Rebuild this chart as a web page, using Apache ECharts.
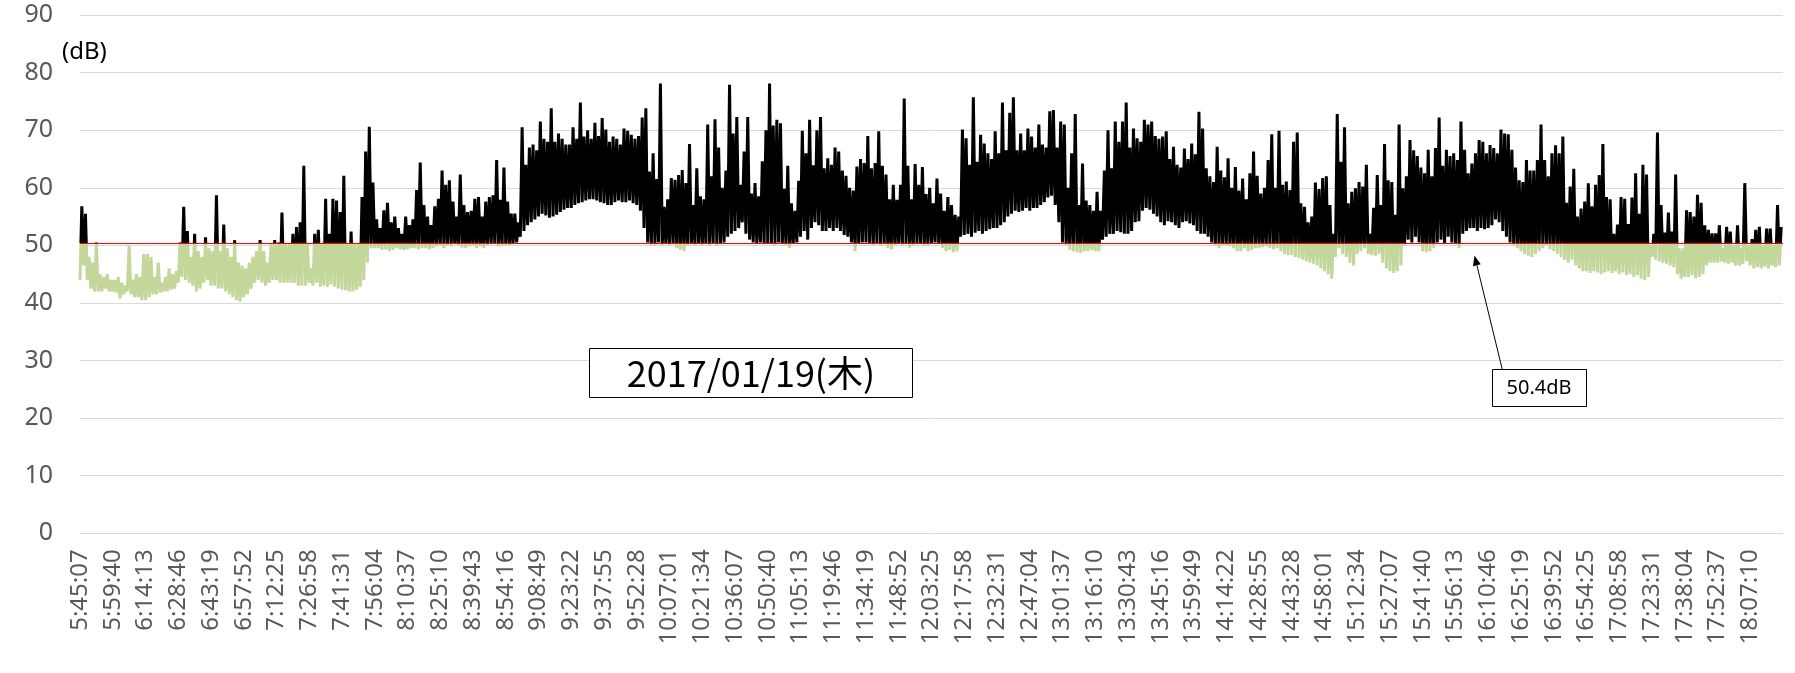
<!DOCTYPE html>
<html><head><meta charset="utf-8">
<script src="https://cdn.jsdelivr.net/npm/echarts@6/dist/echarts.min.js"></script>
<style>html,body{margin:0;padding:0;background:#fff}#chart{width:1795px;height:673px}</style>
</head><body><div id="chart"></div>
<script>
// x tick labels (one every 873 s)
const timeLabels = ['5:45:07','5:59:40','6:14:13','6:28:46','6:43:19','6:57:52','7:12:25','7:26:58','7:41:31','7:56:04',
 '8:10:37','8:25:10','8:39:43','8:54:16','9:08:49','9:23:22','9:37:55','9:52:28','10:07:01','10:21:34',
 '10:36:07','10:50:40','11:05:13','11:19:46','11:34:19','11:48:52','12:03:25','12:17:58','12:32:31','12:47:04',
 '13:01:37','13:16:10','13:30:43','13:45:16','13:59:49','14:14:22','14:28:55','14:43:28','14:58:01','15:12:34',
 '15:27:07','15:41:40','15:56:13','16:10:46','16:25:19','16:39:52','16:54:25','17:08:58','17:23:31','17:38:04',
 '17:52:37','18:07:10'];
const LABEL_STEP = 873;   // seconds between tick labels
const BIN = 97;           // seconds per bin (9 bins per label step)
const threshold = 50.4;   // dB
const Y_MIN = 0, Y_MAX = 90, Y_STEP = 10;

// per-bin minimum level (dB), one row per label step
const binLow = [
 44,46.5,44,42.5,42,42,42,42.5,42,
 42,41.8,40.8,41.5,42,41.5,41,41,40.5,
 40.5,41,41.5,41.5,41.8,42,42,42.3,42.5,
 43.5,44.5,44,43.5,43,42,42.5,43.5,44,
 43,43,42.5,42.5,42,41.5,41,40.5,40.2,
 41,41.5,42.5,43.5,44,43.5,43,43.5,44,
 44,43.5,43.5,43.5,43.5,43.5,43,43,43,
 43.5,43,43.5,42.8,43,42.8,43.2,42.8,42.5,
 42.3,42.2,42,42,42.3,42.8,44,47,49.5,
 49.5,49.5,49.2,49.3,49,49.2,49.5,49.3,49.2,
 49.3,49.5,49.5,49.3,49.5,49.5,49.3,49.5,49.8,
 50,49.5,50,49.8,50.2,50,49.6,49.5,49.8,
 50,49.5,49.8,49.5,50,50.2,50.3,49.8,50,
 50,50,50.2,50.5,51.5,52.5,53.5,54,54.5,
 55,55.5,55.2,54.8,55,55.3,55.8,56.2,56.5,
 56.5,57,57.3,57.5,57.8,58,58,57.8,57.5,
 57.3,57,57,57.5,57.8,57.5,57.5,57.8,57.3,
 57,56,53,50.5,50,50,50.5,50,50.2,
 50,50.2,49.5,49.2,49,50,50.2,50,50.3,
 50,50.2,50,50.3,50,50.2,50.5,51.5,52,
 52.5,53,54,52,51,50.5,50.3,50.5,50.2,
 50.3,50.2,50,50.5,50.2,50,49.5,50.3,50.5,
 51.5,52.5,51,53,54,53.5,52.5,52.5,53,
 52.5,53,52.5,51.8,51.5,50.5,49,50.2,50.5,
 50.5,50.2,50,50.3,50,50.2,49.5,49.3,50,
 50.3,50,50.2,49.5,50,50.2,50.3,50,50,
 50.3,50.5,50.2,49.5,49,49.2,48.8,49,51.5,
 51.8,52,51.5,52.2,52.5,52,52.5,52.8,53,
 53,53.5,54,55,55.5,56,55.8,56,56.5,
 56,56.5,56.5,57,57.5,58.3,58.6,57,54,
 50.5,50,49.2,49,48.8,48.7,49,49,49.2,
 49,49,51,51.5,52,52,52.5,52.3,52,
 52,52.5,54,54.2,56,56.5,56.2,55.5,55,
 54,53.5,54.2,54,53.5,53,54,54.2,53.8,
 53.5,52.5,52,52,51.5,50.5,50,49.5,50,
 50,49.8,49.5,49,49,49.5,49,49.2,49.5,
 49.5,49.7,49.8,49.5,49.3,49.5,49,48.5,48.3,
 48.3,48,47.8,47.5,47.2,47,46.8,46.5,46,
 45.5,45,44.2,48,49.5,48.5,48,47,46.5,
 48.5,49,49.5,48.5,48.3,48.2,48.5,47,46,
 45.5,45.2,45.5,46.5,50,51,50.5,51.5,50.5,
 49,48.8,49,49.5,50.5,51,50.2,51.5,50.5,
 50.3,49.5,52,52.5,53,53,52.5,53,52.8,
 53,53.5,54.5,54,52.5,51.5,50.5,50,49.5,
 49,48.5,48.2,48,48.5,49,49.5,50,49.3,
 49,48.5,48,47.5,47,47.5,46.5,46,45.5,
 45.5,45.2,45.5,45.3,45,45.3,45.5,45.2,45.5,
 45,45.3,44.8,45,44.5,44.8,44.2,44,44.5,
 48,47.5,47.2,47,46.8,46.5,46.2,45,44.2,
 44.5,44.5,44.8,44.3,44.5,45,46.5,47,47,
 47,47.2,47,46.8,47,46.5,46.5,46.8,47.3,
 46.5,46,46.2,46,46.3,46,46.5,46.2,46.5
];
// per-bin maximum level (dB)
const binHigh = [
 56.8,55.5,48,47,50.5,45,44.5,45,44,
 44,44.5,43.5,43,50,44,45,44.5,48.5,
 48.5,48,44.5,47,43.5,44.5,46,45,45.5,
 50.5,56.7,52.5,48,52,49,48,51.4,49.5,
 49,58.7,49,53.6,49.5,48,50.9,47,46.5,
 46,47,48,49,50.9,49,47,50.3,50.9,
 50.5,55.7,50.3,50.3,52,53.2,54,63.8,50.3,
 46,52,52.7,50.3,58.1,52,58.1,57.8,55.8,
 62.1,50.3,52.4,50.3,50.3,58.4,66.3,70.6,60.9,
 54.5,53,56.1,57.4,54,55,53,52,55,
 53.5,54.5,59.6,64.4,57,55,53.5,56.8,58.1,
 63,60.5,61.3,57.6,55,62.3,57,55.8,56,
 58.1,58.4,55,57.6,58.4,58.7,64.8,57.9,63.5,
 57.6,55.5,55.5,54,70.5,64,67,67.5,66.5,
 71.5,68.5,68,73.8,68,69.4,68.5,67.5,67.5,
 70.5,68.5,74.8,68.9,70,68.5,71.3,69,72.1,
 70.1,68,68.9,68.5,67.5,70.3,69.9,69.2,68.5,
 69,72.2,73.8,62.8,66,61.5,78.1,56.7,58,
 61.7,61.4,62.2,63.1,60.8,67.6,57,63.4,58.5,
 58,71,62,71.9,67,60,63,77.9,69.4,
 72.3,60.5,66.3,72.3,59,60.8,58.5,64.6,70,
 78.1,70.8,71.8,71.2,59.8,63.8,57.3,56,61.2,
 69.9,66,71.8,63.9,70,72.3,63.4,65.1,64,
 67,66.3,63,62.1,60,59.5,63.7,65,64.3,
 69,63.4,64.3,69.8,63.8,62.3,58,60.5,57.9,
 60.5,75.5,63.8,58,64.1,60.5,63.6,58.9,60,
 57.3,61.6,59,56,58.4,57,55.3,55,70.1,
 68.6,64,75.7,64.5,69.2,67.7,66,65,69.8,
 66,74.8,66.5,73,75.7,66.5,69.4,66.5,70.3,
 68.9,67,71,67.5,67,73.3,73.5,67,71.5,
 71,60,66,72.8,57,64.2,57.8,57,56,
 59.3,56,63,70,63.4,71.5,68,71.5,74.8,
 67,70.3,68.6,68,71.8,71,71.5,69,68.5,
 68.9,69.8,65,67.1,64,63.5,66.8,65,67.7,
 65.8,73.2,70.3,63.4,62,61,67.1,63,61.8,
 65.1,60,63.6,59.5,61.6,58,62.5,66.3,62.1,
 59,60,64.8,69.3,60,69.9,60.5,61.1,59.6,
 68,69.6,57.3,56.7,54,55,60.9,59.8,61.7,
 62,57,52,72.8,64.5,70.5,57.3,59.3,59.9,
 61,60.2,64,52,56.5,62.2,57,67.6,61.3,
 61,55.3,71,59.9,62,68.3,66.5,65.5,63.5,
 62.5,66.6,62,66.9,72.2,63.8,66.6,65.5,66,
 64.8,71.5,66.6,62.5,64.2,66,68.3,68,66,
 67.4,66.9,66,70.1,69.4,69.3,66.6,63.5,61.3,
 61,64.8,63,63,64.8,71,64.8,62,66,
 67.4,66,68.9,57.4,60.2,63.3,55,56.4,57.6,
 60.8,56.8,60.5,62.2,67.6,58.4,58,52,53.6,
 58.4,58.1,53.7,58.3,62.5,55.5,64,62.3,50,
 52,69.6,57,52.2,55.7,52.4,62.3,49.5,49.5,
 56.1,55.8,55,58.8,57.4,53.5,52.7,52.1,52.1,
 53.5,49.5,53.2,52.4,50,53.5,49.5,60.8,50,
 51.1,52.7,53.2,50,52.9,52.9,50,57,53.2
];

// each bin: its low at the bin start, its high half a bin later
const points = [];
for (let j = 0; j < binLow.length; j++) {
  points.push([j * BIN, binLow[j]]);
  points.push([j * BIN + BIN / 2, binHigh[j]]);
}

const BLACK = '#000000', GREEN = '#C4D79B';
const chart = echarts.init(document.getElementById('chart'), null, {renderer: 'canvas'});

// arrow geometry for the annotation
const arrowStart = [1502.3, 369.5], arrowTip = [1474.5, 255.5];
const dx = arrowTip[0] - arrowStart[0], dy = arrowTip[1] - arrowStart[1];
const len = Math.hypot(dx, dy), ux = dx / len, uy = dy / len;
const hl = 10, hw = 4;
const bx = arrowTip[0] - ux * hl, by = arrowTip[1] - uy * hl;

chart.setOption({
  animation: false,
  backgroundColor: '#ffffff',
  grid: {left: 80, right: 12, top: 15, bottom: 139.7},
  xAxis: {
    type: 'value', min: 0, max: LABEL_STEP * timeLabels.length, interval: LABEL_STEP,
    axisLine: {show: false}, axisTick: {show: false}, splitLine: {show: false},
    axisLabel: {
      rotate: 90, showMaxLabel: false, showMinLabel: true,
      formatter: v => timeLabels[Math.round(v / LABEL_STEP)] || '',
      color: '#595959', fontSize: 24, fontFamily: 'Noto Sans', margin: 16
    }
  },
  yAxis: {
    type: 'value', min: Y_MIN, max: Y_MAX, interval: Y_STEP,
    axisLine: {show: false}, axisTick: {show: false},
    splitLine: {lineStyle: {color: '#D9D9D9', width: 1}},
    axisLabel: {color: '#595959', fontSize: 25, fontFamily: 'Noto Sans', margin: 27}
  },
  series: [{
    type: 'line', data: points, symbol: 'none', lineStyle: {width: 3, color: BLACK, join: 'miter', miterLimit: 2}, z: 2,
    markLine: {
      silent: true, symbol: ['none', 'none'], label: {show: false},
      lineStyle: {color: '#FF0000', width: 1, type: 'solid'},
      emphasis: {disabled: true},
      data: [{yAxis: threshold}]
    }
  }],
  graphic: [
    {type: 'text', x: 62, y: 52.5, z: 100,
     style: {text: '(dB)', font: '24px "Noto Sans"', fill: '#000', align: 'left', verticalAlign: 'middle'}},
    {type: 'rect', z: 100, shape: {x: 589.5, y: 348.5, width: 323, height: 49},
     style: {fill: '#fff', stroke: '#000', lineWidth: 1}},
    {type: 'text', x: 751, y: 373, z: 101,
     style: {text: '2017/01/19(木)', font: '36px "Noto Sans CJK JP"', fill: '#000', align: 'center', verticalAlign: 'middle'}},
    {type: 'rect', z: 100, shape: {x: 1492.5, y: 369.5, width: 94, height: 37},
     style: {fill: '#fff', stroke: '#000', lineWidth: 1}},
    {type: 'text', x: 1539, y: 388.5, z: 101,
     style: {text: '50.4dB', font: '20px "Noto Sans"', fill: '#000', align: 'center', verticalAlign: 'middle'}},
    {type: 'line', z: 100, shape: {x1: arrowStart[0], y1: arrowStart[1], x2: bx, y2: by},
     style: {stroke: '#000', lineWidth: 1}},
    {type: 'polygon', z: 100,
     shape: {points: [[arrowTip[0], arrowTip[1]], [bx + uy * hw, by - ux * hw], [bx - uy * hw, by + ux * hw]]},
     style: {fill: '#000'}}
  ]
});

// colour the line black above the threshold and green below, using the y axis scale
const yTop = chart.convertToPixel({yAxisIndex: 0}, Y_MAX);
const yBot = chart.convertToPixel({yAxisIndex: 0}, Y_MIN);
const yThr = chart.convertToPixel({yAxisIndex: 0}, threshold);
const t = (yThr - yTop) / (yBot - yTop);
chart.setOption({
  series: [{
    lineStyle: {
      color: new echarts.graphic.LinearGradient(0, yTop, 0, yBot, [
        {offset: 0, color: BLACK}, {offset: t, color: BLACK},
        {offset: t, color: GREEN}, {offset: 1, color: GREEN}
      ], true)
    }
  }]
});
</script></body></html>
